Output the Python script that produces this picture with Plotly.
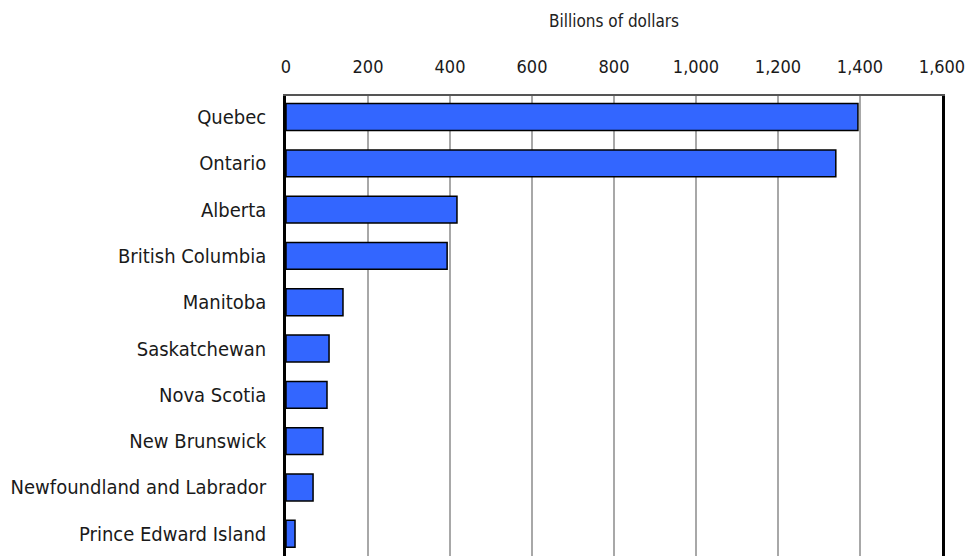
import plotly.graph_objects as go

provinces = ["Quebec", "Ontario", "Alberta", "British Columbia", "Manitoba",
             "Saskatchewan", "Nova Scotia", "New Brunswick",
             "Newfoundland and Labrador", "Prince Edward Island"]
values = [1395, 1341, 417, 393, 139, 105, 100, 90, 66, 22]
x_ticks = [0, 200, 400, 600, 800, 1000, 1200, 1400, 1600]
x_tick_labels = ["0", "200", "400", "600", "800", "1,000", "1,200", "1,400", "1,600"]

FONT = "DejaVu Sans Condensed, Liberation Sans Narrow, sans-serif"

fig = go.Figure(go.Bar(
    x=values, y=provinces, orientation="h",
    width=0.58,
    marker=dict(color="#3366FF", line=dict(color="black", width=1.5)),
))

fig.update_layout(
    width=971, height=556,
    margin=dict(l=286, r=29, t=96, b=0),
    plot_bgcolor="white", paper_bgcolor="white",
    font=dict(family=FONT, size=18, color="#1a1a1a"),
    showlegend=False,
)
fig.update_xaxes(
    side="top", range=[0, 1600], tickvals=x_ticks, ticktext=x_tick_labels,
    showgrid=True, gridcolor="#a8a8a8", gridwidth=1.5,
    showline=True, linecolor="#555555", linewidth=2, mirror=False,
    ticks="", ticklabelstandoff=14, zeroline=False,
    ticklabeloverflow="allow",
    tickfont=dict(size=18),
    title=dict(text="Billions of dollars", standoff=24, font=dict(size=17, color="#222222")),
)
fig.update_yaxes(
    type="category", categoryorder="array", categoryarray=provinces,
    range=[9.48, -0.454],
    showline=True, linecolor="black", linewidth=2.5, mirror=True,
    showgrid=False, ticks="", ticklabelstandoff=13,
    tickfont=dict(size=20),
)

fig.write_html(
    "out.html",
    config={"displayModeBar": False},
    post_script="document.body.style.margin='0';document.body.style.overflow='hidden';",
)
